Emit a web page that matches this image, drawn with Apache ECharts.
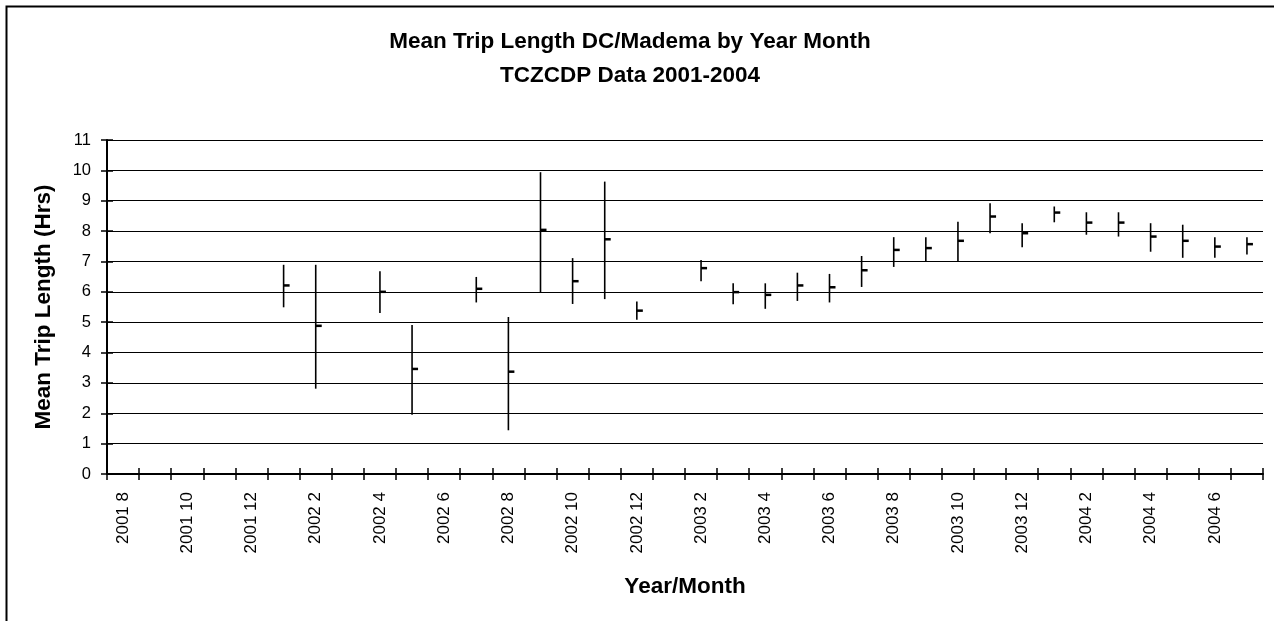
<!DOCTYPE html>
<html>
<head>
<meta charset="utf-8">
<script src="https://cdn.jsdelivr.net/npm/echarts@6/dist/echarts.min.js"></script>
<style>
  html, body { margin: 0; padding: 0; background: #fff; }
  #chart { width: 1274px; height: 621px; }
</style>
</head>
<body>
<div id="chart"></div>
<script>
// Year/month categories, August 2001 through July 2004
const months = [
  '2001 8', '2001 9', '2001 10', '2001 11', '2001 12',
  '2002 1', '2002 2', '2002 3', '2002 4', '2002 5', '2002 6', '2002 7',
  '2002 8', '2002 9', '2002 10', '2002 11', '2002 12',
  '2003 1', '2003 2', '2003 3', '2003 4', '2003 5', '2003 6', '2003 7',
  '2003 8', '2003 9', '2003 10', '2003 11', '2003 12',
  '2004 1', '2004 2', '2004 3', '2004 4', '2004 5', '2004 6', '2004 7'
];

// Upper bound of the trip length range (hours); null = no trips that month
const highVals = [
  null, null, null, null, null,
  6.89, 6.89, null, 6.68, 4.91, null, 6.49,
  5.17, 9.94, 7.11, 9.63, 5.68,
  null, 7.05, 6.28, 6.28, 6.63, 6.59, 7.18,
  7.80, 7.80, 8.31, 8.92, 8.26,
  8.81, 8.62, 8.62, 8.26, 8.21, 7.80, 7.80
];

// Lower bound of the trip length range (hours)
const lowVals = [
  null, null, null, null, null,
  5.49, 2.81, null, 5.30, 1.95, null, 5.65,
  1.44, 5.99, 5.60, 5.76, 5.08,
  null, 6.35, 5.59, 5.44, 5.70, 5.65, 6.16,
  6.82, 6.98, 6.98, 7.93, 7.47,
  8.29, 7.88, 7.82, 7.32, 7.12, 7.12, 7.23
];

// Mean trip length (hours)
const meanVals = [
  null, null, null, null, null,
  6.21, 4.88, null, 6.00, 3.46, null, 6.10,
  3.37, 8.04, 6.35, 7.73, 5.38,
  null, 6.78, 5.99, 5.90, 6.21, 6.15, 6.71,
  7.38, 7.44, 7.68, 8.48, 7.93,
  8.61, 8.28, 8.28, 7.82, 7.68, 7.49, 7.57
];

const yMin = 0, yMax = 11, yStep = 1;

// [category index, low, high, mean] for months that have data
const hlcData = [];
months.forEach(function (m, i) {
  if (meanVals[i] !== null) {
    hlcData.push([i, lowVals[i], highVals[i], meanVals[i]]);
  }
});

const FONT = 'Arial, "Liberation Sans", sans-serif';

const chart = echarts.init(document.getElementById('chart'), null, { renderer: 'canvas' });

// High-low line with a short tick on the right at the mean
function renderHLC(params, api) {
  const idx = api.value(0);
  const lo = api.coord([idx, api.value(1)]);
  const hi = api.coord([idx, api.value(2)]);
  const mn = api.coord([idx, api.value(3)]);
  return {
    type: 'group',
    children: [
      {
        type: 'line',
        shape: { x1: lo[0], y1: lo[1], x2: hi[0], y2: hi[1] },
        style: { stroke: '#000', lineWidth: 1.6 }
      },
      {
        type: 'line',
        shape: { x1: mn[0], y1: mn[1], x2: mn[0] + 6, y2: mn[1] },
        style: { stroke: '#000', lineWidth: 2.5 }
      }
    ]
  };
}

chart.setOption({
  backgroundColor: '#fff',
  animation: false,
  title: {
    text: 'Mean Trip Length DC/Madema by Year Month\nTCZCDP Data 2001-2004',
    left: 630,
    top: 25,
    padding: 0,
    textAlign: 'center',
    textStyle: {
      fontFamily: FONT,
      fontSize: 22.5,
      fontWeight: 'bold',
      color: '#000',
      lineHeight: 34
    }
  },
  graphic: [
    {
      type: 'rect',
      shape: { x: 6.5, y: 6.5, width: 1300, height: 700 },
      style: { fill: 'none', stroke: '#000', lineWidth: 2 },
      silent: true
    }
  ],
  grid: {
    left: 107,
    right: 11,
    top: 140,
    bottom: 147,
    containLabel: false
  },
  xAxis: [
    {
      type: 'category',
      data: months,
      position: 'bottom',
      boundaryGap: true,
      axisLine: { show: true, lineStyle: { color: '#000', width: 2 } },
      axisTick: { show: true, interval: 0, length: 6, inside: false, lineStyle: { color: '#000', width: 1.5 } },
      axisLabel: {
        interval: 1,
        rotate: 90,
        margin: 18,
        color: '#000',
        fontFamily: FONT,
        fontSize: 17
      },
      splitLine: { show: false },
      name: 'Year/Month',
      nameLocation: 'middle',
      nameGap: 101,
      nameTextStyle: { fontFamily: FONT, fontSize: 22.5, fontWeight: 'bold', color: '#000' }
    },
    {
      type: 'category',
      data: months,
      position: 'bottom',
      boundaryGap: true,
      axisLine: { show: false },
      axisTick: { show: true, interval: 0, length: 6, inside: true, lineStyle: { color: '#000', width: 1.5 } },
      axisLabel: { show: false },
      splitLine: { show: false }
    }
  ],
  yAxis: [
    {
      type: 'value',
      min: yMin,
      max: yMax,
      interval: yStep,
      position: 'left',
      axisLine: { show: true, lineStyle: { color: '#000', width: 2 } },
      axisTick: { show: true, length: 6, inside: false, lineStyle: { color: '#000', width: 1.5 } },
      axisLabel: { margin: 16, color: '#000', fontFamily: FONT, fontSize: 16.5 },
      splitLine: { show: true, lineStyle: { color: '#000', width: 1 } },
      name: 'Mean Trip Length (Hrs)',
      nameLocation: 'middle',
      nameGap: 52,
      nameRotate: 90,
      nameTextStyle: { fontFamily: FONT, fontSize: 22.5, fontWeight: 'bold', color: '#000' }
    },
    {
      type: 'value',
      min: yMin,
      max: yMax,
      interval: yStep,
      position: 'left',
      axisLine: { show: false },
      axisTick: { show: true, length: 6, inside: true, lineStyle: { color: '#000', width: 1.5 } },
      axisLabel: { show: false },
      splitLine: { show: false }
    }
  ],
  series: [
    {
      type: 'custom',
      name: 'Mean Trip Length',
      xAxisIndex: 0,
      yAxisIndex: 0,
      renderItem: renderHLC,
      encode: { x: 0, y: [1, 2, 3] },
      data: hlcData,
      clip: false
    }
  ]
});
</script>
</body>
</html>
